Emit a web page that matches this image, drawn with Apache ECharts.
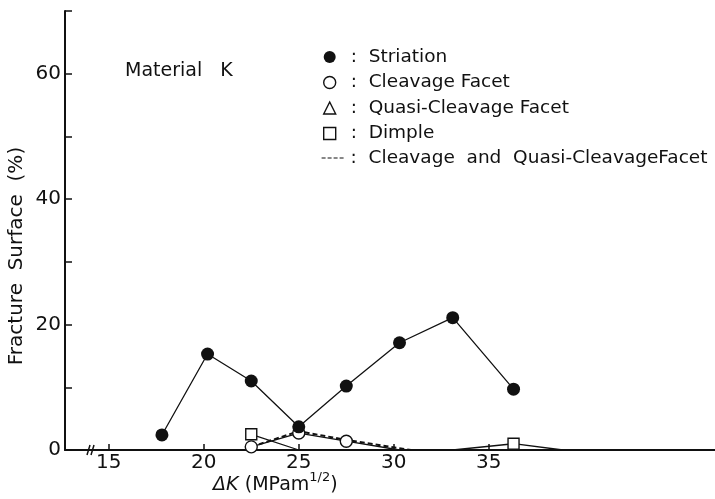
<!DOCTYPE html>
<html>
<head>
<meta charset="utf-8">
<script src="https://cdn.jsdelivr.net/npm/echarts@6/dist/echarts.min.js"></script>
<style>
  html, body { margin: 0; padding: 0; background: #fff; }
  #chart { width: 715px; height: 499px; }
</style>
</head>
<body>
<div id="chart"></div>
<script>
// ΔK (MPa·m^1/2) and fracture surface fractions (%) for Material K
const dkStriation = [17.8, 20.2, 22.5, 25.0, 27.5, 30.3, 33.1, 36.3];
const striation   = [2.4, 15.3, 11.0, 3.7, 10.2, 17.1, 21.1, 9.7];

const dkCleavage = [22.5, 25.0, 27.5, 30.3];
const cleavage   = [0.5, 2.7, 1.4, 0];

const dkDimple = [22.5, 25.0, 33.1, 36.3, 38.9];
const dimple   = [2.5, 0, 0, 1.0, 0];

const dkCombined = [22.5, 25.0, 27.5, 30.9];
const combined   = [0.5, 3.0, 1.6, 0];

const xTicks = [15, 20, 25, 30, 35];
const yLabels = [0, 20, 40, 60];

const markerNames = ['Striation', 'Cleavage Facet', 'Quasi-Cleavage Facet', 'Dimple'];
const lineName = 'Cleavage and Quasi-Cleavage Facet';

const FONT = 'DejaVu Sans';
const INK = '#111';

// zero readings lie on the axis and carry no marker
function pairs(xs, ys) {
  return xs.map((x, i) => ys[i] === 0 ? { value: [x, ys[i]], symbol: 'none' } : [x, ys[i]]);
}

const hollow = { color: '#fff', borderColor: INK, borderWidth: 1.4 };

const chart = echarts.init(document.getElementById('chart'), null, { renderer: 'canvas' });

chart.setOption({
  backgroundColor: '#fff',
  animation: false,
  textStyle: { fontFamily: FONT, color: INK },
  grid: { left: 65, right: 0, top: 11, bottom: 49, containLabel: false },
  title: {
    left: 213, top: 471, padding: 0,
    text: '{i|ΔK} {n|(MPam}{s|1/2}{n|)}',
    textStyle: {
      rich: {
        i: { fontFamily: FONT, fontSize: 19, fontStyle: 'italic', fontWeight: 'normal', color: INK, lineHeight: 28 },
        n: { fontFamily: FONT, fontSize: 19, fontWeight: 'normal', color: INK, lineHeight: 28 },
        s: { fontFamily: FONT, fontSize: 13, fontWeight: 'normal', color: INK, lineHeight: 14, verticalAlign: 'top' }
      }
    }
  },
  legend: [
    {
      orient: 'vertical',
      left: 323, top: 47, padding: 0,
      itemWidth: 12, itemHeight: 12, itemGap: 5.5,
      selectedMode: false,
      formatter: name => ':  ' + name,
      textStyle: { fontFamily: FONT, fontSize: 18.5, color: INK, lineHeight: 20, padding: [0, 0, 0, 10] },
      data: [
        { name: markerNames[0], icon: 'circle', itemStyle: { color: INK, borderWidth: 0 } },
        { name: markerNames[1], icon: 'circle', itemStyle: hollow },
        { name: markerNames[2], icon: 'triangle', itemStyle: hollow },
        { name: markerNames[3], icon: 'rect', itemStyle: hollow }
      ]
    },
    {
      orient: 'vertical',
      left: 321, top: 148, padding: 0,
      itemWidth: 24, itemHeight: 12,
      selectedMode: false,
      formatter: name => ':  ' + name.replace('and', ' and ').replace('Cleavage Facet', 'CleavageFacet'),
      textStyle: { fontFamily: FONT, fontSize: 18.5, color: INK, lineHeight: 20 },
      data: [
        { name: lineName, itemStyle: { opacity: 0 }, lineStyle: { color: INK, width: 1.2, type: [4, 2] } }
      ]
    }
  ],
  xAxis: {
    type: 'value',
    min: 12.7, max: 46.9,
    splitLine: { show: false },
    axisLine: { show: true, onZero: false, lineStyle: { color: INK, width: 2 } },
    axisTick: { show: true, inside: true, length: 6, customValues: xTicks, lineStyle: { color: INK, width: 1.5 } },
    axisLabel: { customValues: xTicks, fontFamily: FONT, fontSize: 20, color: INK, margin: 3 }
  },
  yAxis: {
    type: 'value',
    min: 0, max: 70, interval: 10,
    splitLine: { show: false },
    axisLine: { show: true, lineStyle: { color: INK, width: 2 } },
    axisTick: { show: true, inside: true, length: 7, lineStyle: { color: INK, width: 1.5 } },
    axisLabel: {
      fontFamily: FONT, fontSize: 20, color: INK, margin: 4,
      formatter: v => yLabels.includes(v) ? String(v) : ''
    }
  },
  graphic: [
    {
      type: 'text', x: 17, y: 256, rotation: Math.PI / 2,
      style: { text: 'Fracture  Surface  (%)', fontFamily: FONT, fontSize: 20, fill: INK, align: 'center', verticalAlign: 'middle' }
    },
    {
      type: 'text', x: 125, y: 62,
      style: { text: 'Material   K', fontFamily: FONT, fontSize: 19, fill: INK }
    },
    // axis break marks
    { type: 'line', shape: { x1: 87, y1: 455, x2: 90, y2: 445 }, style: { stroke: INK, lineWidth: 1.5 } },
    { type: 'line', shape: { x1: 91, y1: 455, x2: 94, y2: 445 }, style: { stroke: INK, lineWidth: 1.5 } }
  ],
  series: [
    {
      name: lineName, type: 'line',
      data: pairs(dkCombined, combined),
      symbol: 'none',
      itemStyle: { color: INK, opacity: 0 },
      lineStyle: { color: INK, width: 2, type: [5, 3] },
      z: 2
    },
    {
      name: markerNames[3], type: 'line',
      data: pairs(dkDimple, dimple),
      symbol: 'rect', symbolSize: 11,
      itemStyle: hollow,
      lineStyle: { color: INK, width: 1.3 },
      z: 3
    },
    {
      name: markerNames[2], type: 'line',
      data: [],
      symbol: 'triangle', symbolSize: 11,
      itemStyle: hollow,
      lineStyle: { color: INK, width: 1.3 }
    },
    {
      name: markerNames[1], type: 'line',
      data: pairs(dkCleavage, cleavage),
      symbol: 'circle', symbolSize: 12,
      itemStyle: hollow,
      lineStyle: { color: INK, width: 1.3 },
      z: 4
    },
    {
      name: markerNames[0], type: 'line',
      data: pairs(dkStriation, striation),
      symbol: 'circle', symbolSize: 13,
      itemStyle: { color: INK, borderWidth: 0 },
      lineStyle: { color: INK, width: 1.3 },
      z: 5
    }
  ]
});
</script>
</body>
</html>
